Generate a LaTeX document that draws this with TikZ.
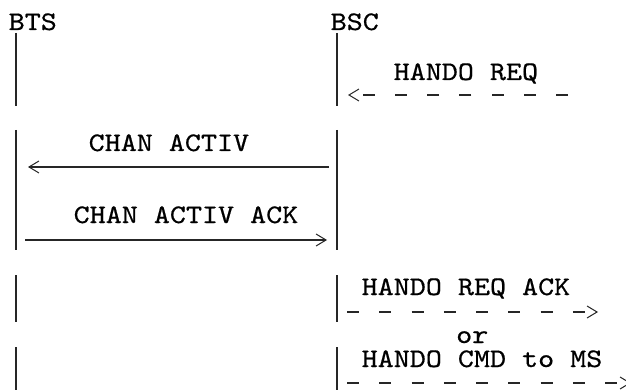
\documentclass[tikz,border=0pt]{standalone}
\usepackage{fontspec}
\newfontfamily\courfont[FakeStretch=1.14,FakeBold=0.6]{lmmono10-regular.otf}
\usetikzlibrary{arrows.meta}
\begin{document}
\begin{tikzpicture}[x=1pt,y=-1pt,
  lbl/.style={font=\courfont\fontsize{26.8}{30}\selectfont, inner sep=0pt, anchor=base west, text=black, text height=15pt, text depth=0pt},
  life/.style={line width=1.3pt, black!85},
  msg/.style={line width=1.3pt, black!85, -{Straight Barb[length=10pt,width=12pt,line width=1pt]}},
  dmsg/.style={msg, dash pattern=on 12pt off 20.25pt}]
\useasboundingbox (0,0) rectangle (626,390);
% headers
\node[lbl] (BTS) at (8.5,30) {BTS};
\node[lbl] (BSC) at (330.5,30) {BSC};
% lifeline end points
\coordinate (t1a) at (16,33);  \coordinate (t1b) at (16,106);
\coordinate (t2a) at (16,130); \coordinate (t2b) at (16,250);
\coordinate (t3a) at (16,275); \coordinate (t3b) at (16,322);
\coordinate (t4a) at (16,347); \coordinate (t4b) at (16,395);
\coordinate (c1a) at (337,33);  \coordinate (c1b) at (337,106);
\coordinate (c2a) at (337,130); \coordinate (c2b) at (337,250);
\coordinate (c3a) at (337,275); \coordinate (c3b) at (337,322);
\coordinate (c4a) at (337,347); \coordinate (c4b) at (337,395);
\foreach \s in {t1,t2,t3,t4,c1,c2,c3,c4}{\draw[life] (\s a) -- (\s b);}
% message end points
\coordinate (m1s) at (568,95);  \coordinate (m1e) at (348,95);
\coordinate (m2s) at (329,167); \coordinate (m2e) at (28,167);
\coordinate (m3s) at (25,240);  \coordinate (m3e) at (327,240);
\coordinate (m4s) at (347,312); \coordinate (m4e) at (598,312);
\coordinate (m5s) at (347,383); \coordinate (m5e) at (631,383);
% messages
\draw[dmsg] (m1s) -- (m1e);
\draw[msg] (m2s) -- (m2e);
\draw[msg] (m3s) -- (m3e);
\draw[dmsg] (m4s) -- (m4e);
\draw[dmsg] (m5s) -- (m5e);
% labels
\node[lbl] (l1) at (393.5,80) {HANDO REQ};
\node[lbl] (l2) at (88.5,151) {CHAN ACTIV};
\node[lbl] (l3) at (73.5,223) {CHAN ACTIV ACK};
\node[lbl] (l4) at (361.5,295) {HANDO REQ ACK};
\node[lbl] (l5) at (456,343) {or};
\node[lbl] (l6) at (361.5,367) {HANDO CMD to MS};
\end{tikzpicture}
\end{document}
